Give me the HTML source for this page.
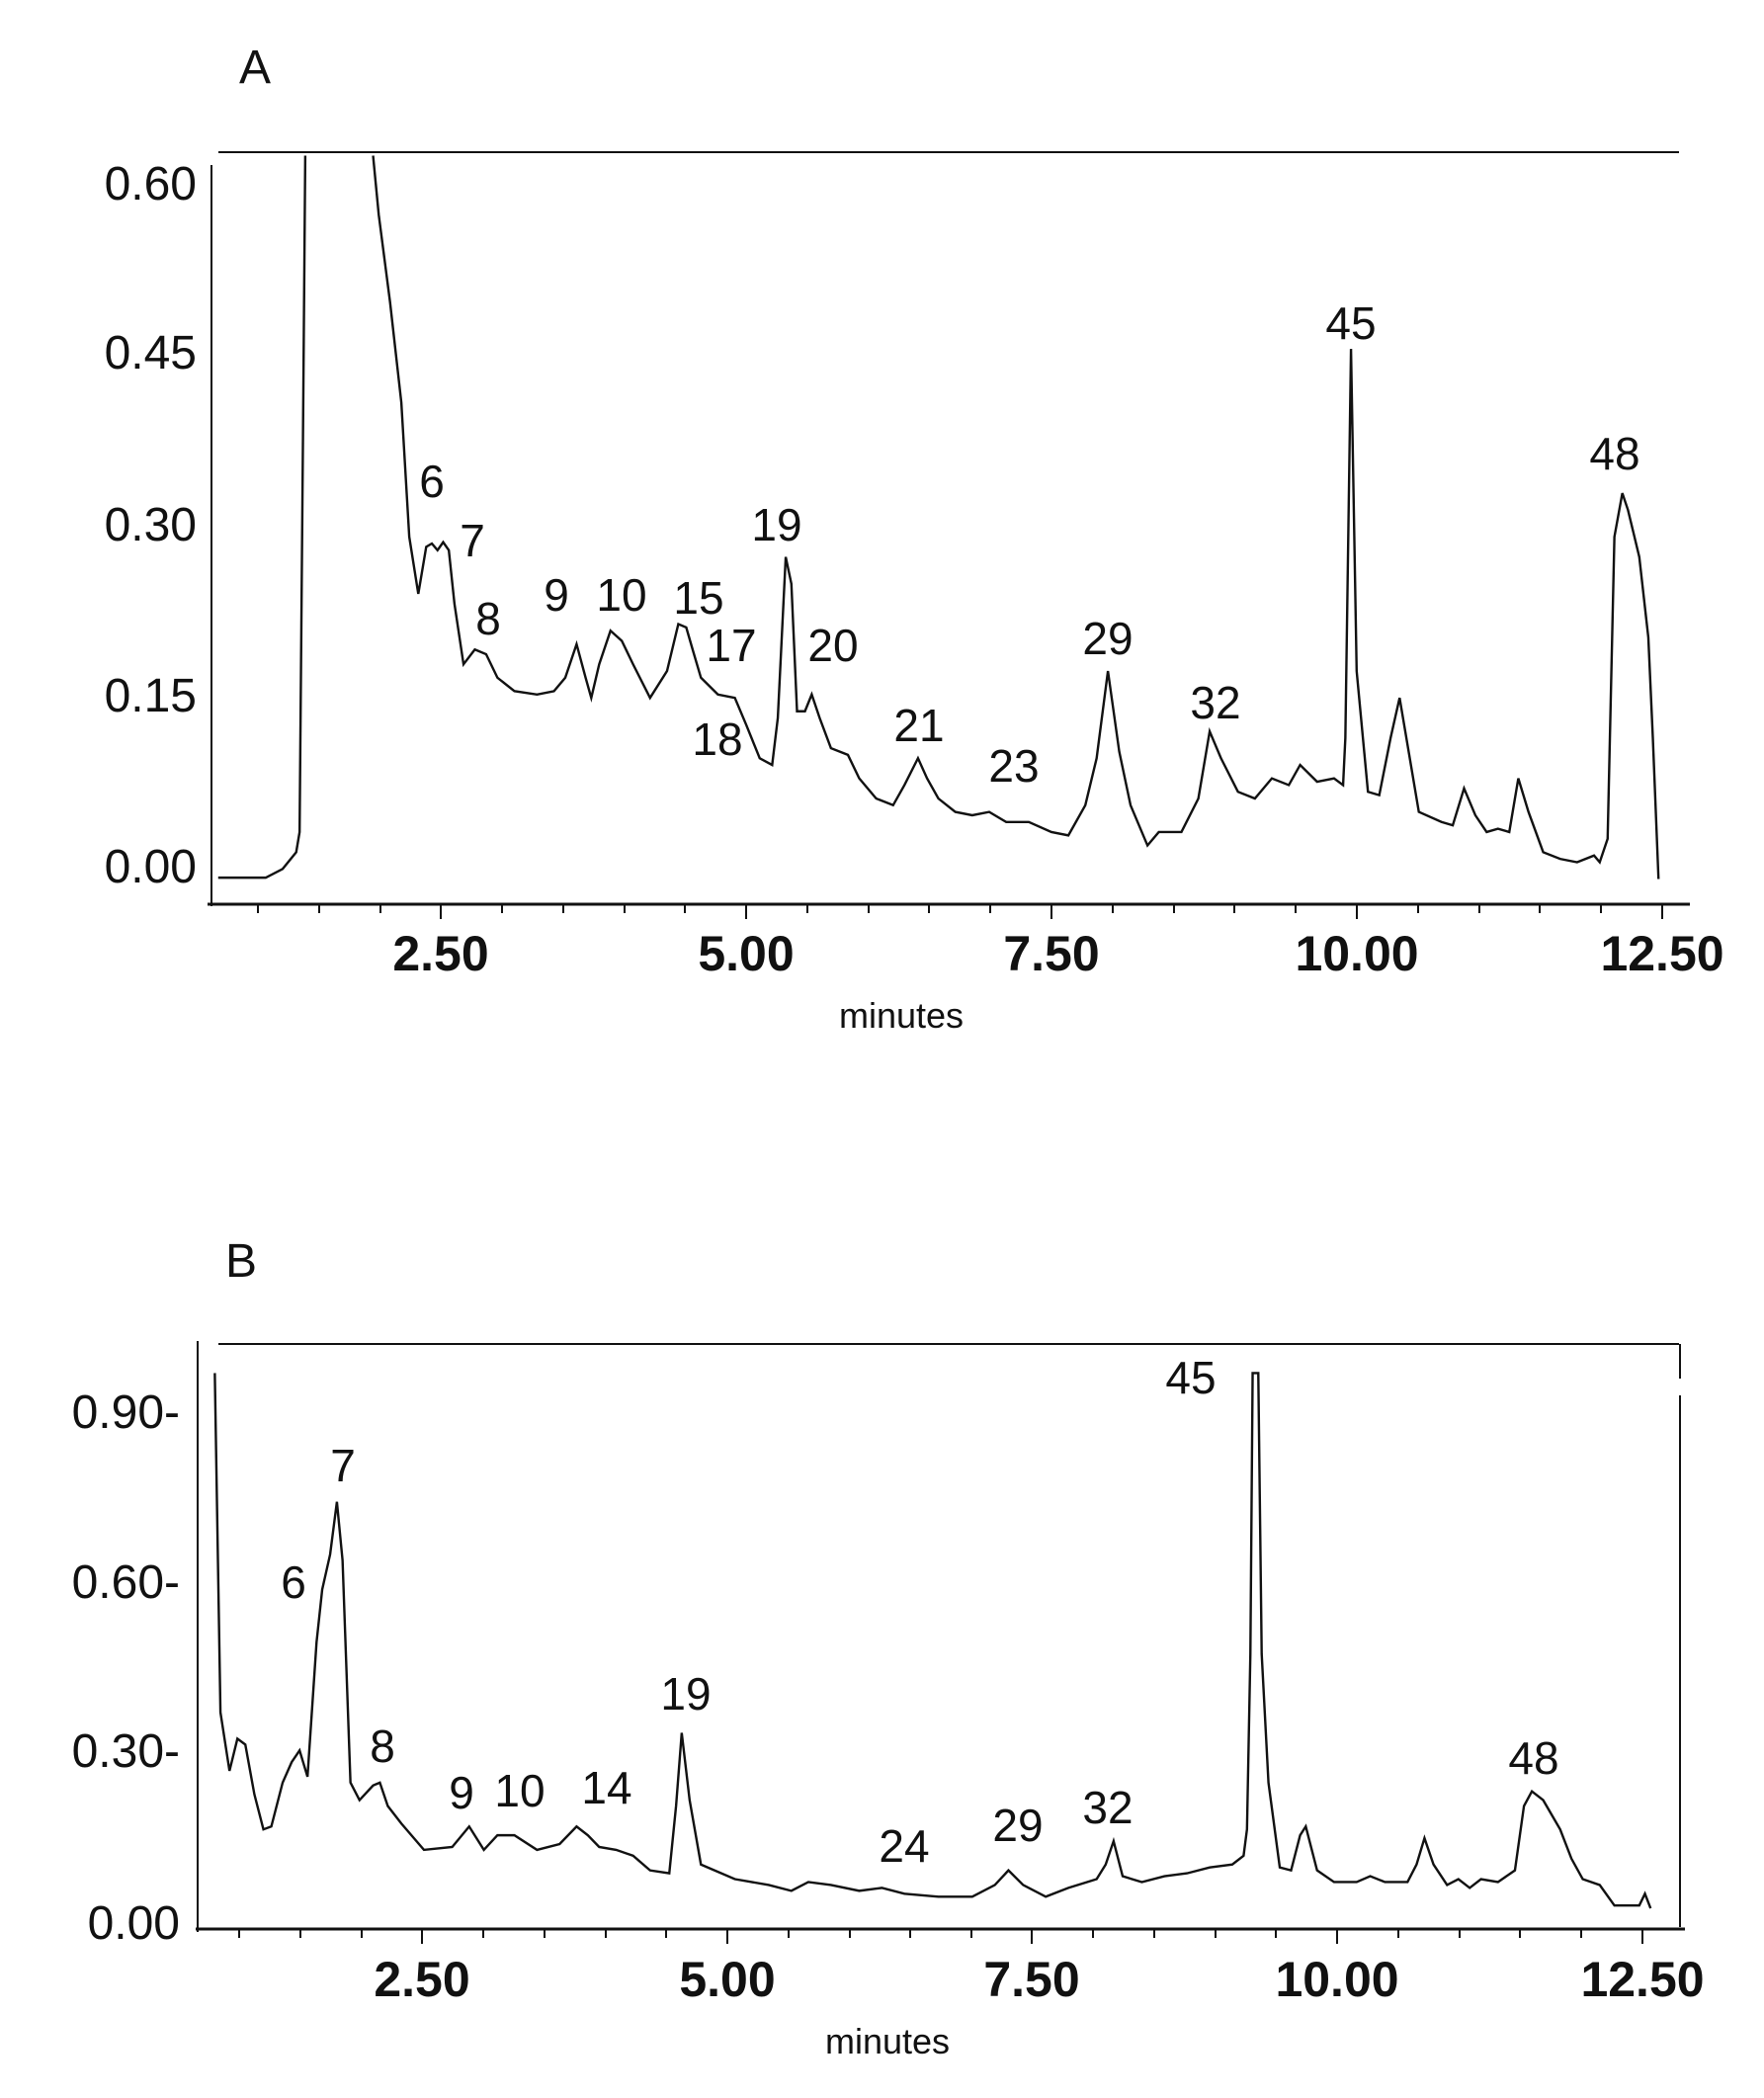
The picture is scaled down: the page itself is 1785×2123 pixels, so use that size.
<!DOCTYPE html>
<html><head><meta charset="utf-8"><style>
html,body{margin:0;padding:0;background:#fff}
svg{display:block}
text{font-family:"Liberation Sans",sans-serif;fill:#111}
</style></head><body>
<svg width="1785" height="2123" viewBox="0 0 1785 2123" xmlns="http://www.w3.org/2000/svg">
<!-- Panel A -->
<text x="242" y="84" font-size="48">A</text>
<line x1="221" y1="154" x2="1699" y2="154" stroke="#111" stroke-width="2"/>
<line x1="214" y1="167" x2="214" y2="917" stroke="#111" stroke-width="2"/>
<line x1="210" y1="915" x2="1710" y2="915" stroke="#111" stroke-width="3"/>
<g font-size="48" text-anchor="end">
<text x="199" y="202">0.60</text><text x="199" y="373">0.45</text><text x="199" y="547">0.30</text><text x="199" y="720">0.15</text><text x="199" y="893">0.00</text>
</g>
<g stroke="#111" stroke-width="2">
<line x1="261" y1="915" x2="261" y2="924"/><line x1="323" y1="915" x2="323" y2="924"/><line x1="385" y1="915" x2="385" y2="924"/><line x1="446" y1="915" x2="446" y2="930"/><line x1="508" y1="915" x2="508" y2="924"/><line x1="570" y1="915" x2="570" y2="924"/><line x1="632" y1="915" x2="632" y2="924"/><line x1="693" y1="915" x2="693" y2="924"/><line x1="755" y1="915" x2="755" y2="930"/><line x1="817" y1="915" x2="817" y2="924"/><line x1="879" y1="915" x2="879" y2="924"/><line x1="940" y1="915" x2="940" y2="924"/><line x1="1002" y1="915" x2="1002" y2="924"/><line x1="1064" y1="915" x2="1064" y2="930"/><line x1="1126" y1="915" x2="1126" y2="924"/><line x1="1188" y1="915" x2="1188" y2="924"/><line x1="1249" y1="915" x2="1249" y2="924"/><line x1="1311" y1="915" x2="1311" y2="924"/><line x1="1373" y1="915" x2="1373" y2="930"/><line x1="1435" y1="915" x2="1435" y2="924"/><line x1="1497" y1="915" x2="1497" y2="924"/><line x1="1558" y1="915" x2="1558" y2="924"/><line x1="1620" y1="915" x2="1620" y2="924"/><line x1="1682" y1="915" x2="1682" y2="930"/>
</g>
<g font-size="50" font-weight="bold" text-anchor="middle">
<text x="446" y="982">2.50</text><text x="755" y="982">5.00</text><text x="1064" y="982">7.50</text><text x="1373" y="982">10.00</text><text x="1682" y="982">12.50</text>
</g>
<text x="912" y="1040" font-size="36" text-anchor="middle">minutes</text>
<g transform="scale(1.144,0.679)" fill="none" stroke="#111" stroke-width="2.4">
<path vector-effect="non-scaling-stroke" d="M193,1308 L235,1308 250,1295 262,1270 265,1240 268,650 270,232 M330,232 L335,320 345,450 355,600 362,800 370,885 377,815 382,810 387,820 392,808 397,820 402,900 410,990 420,968 430,975 440,1010 455,1030 475,1035 490,1030 500,1010 510,960 518,1010 523,1040 530,990 540,940 550,955 560,990 575,1040 590,1000 600,930 607,935 613,970 620,1010 635,1035 650,1040 660,1080 672,1130 683,1140 688,1070 695,830 700,870 705,1060 712,1060 718,1035 725,1070 735,1115 750,1125 760,1160 775,1190 790,1200 800,1170 812,1130 820,1160 830,1190 845,1210 860,1215 875,1210 890,1225 910,1225 930,1240 945,1245 960,1200 970,1130 980,1000 990,1120 1000,1200 1015,1260 1025,1240 1045,1240 1060,1190 1070,1090 1080,1130 1095,1180 1110,1190 1125,1160 1140,1170 1150,1140 1165,1165 1180,1160 1188,1170 1190,1100 1195,520 1200,1000 1210,1180 1220,1185 1230,1100 1238,1040 1245,1110 1255,1210 1275,1225 1285,1230 1295,1175 1305,1215 1315,1240 1325,1235 1335,1240 1343,1160 1352,1210 1365,1270 1380,1280 1395,1285 1410,1275 1415,1285 1422,1250 1428,800 1435,735 1440,760 1450,830 1458,950 1462,1100 1467,1310"/>
</g>
<g font-size="46" text-anchor="middle">
<text x="437" y="503">6</text><text x="478" y="563">7</text><text x="494" y="642">8</text><text x="563" y="618">9</text><text x="629" y="618">10</text><text x="707" y="621">15</text><text x="740" y="669">17</text><text x="726" y="764">18</text><text x="786" y="547">19</text><text x="843" y="669">20</text><text x="930" y="750">21</text><text x="1026" y="791">23</text><text x="1121" y="662">29</text><text x="1230" y="727">32</text><text x="1367" y="343">45</text><text x="1634" y="475">48</text>
</g>

<!-- Panel B -->
<text x="228" y="1292" font-size="48">B</text>
<line x1="221" y1="1360" x2="1699" y2="1360" stroke="#111" stroke-width="2"/>
<line x1="1700" y1="1360" x2="1700" y2="1395" stroke="#111" stroke-width="2"/>
<line x1="1700" y1="1412" x2="1700" y2="1950" stroke="#111" stroke-width="2"/>
<line x1="200" y1="1357" x2="200" y2="1955" stroke="#111" stroke-width="2"/>
<line x1="198" y1="1952" x2="1705" y2="1952" stroke="#111" stroke-width="3"/>
<g font-size="48" text-anchor="end">
<text x="182" y="1445">0.90-</text><text x="182" y="1617">0.60-</text><text x="182" y="1788">0.30-</text><text x="182" y="1962">0.00</text>
</g>
<g stroke="#111" stroke-width="2">
<line x1="242" y1="1952" x2="242" y2="1961"/><line x1="304" y1="1952" x2="304" y2="1961"/><line x1="366" y1="1952" x2="366" y2="1961"/><line x1="427" y1="1952" x2="427" y2="1967"/><line x1="489" y1="1952" x2="489" y2="1961"/><line x1="551" y1="1952" x2="551" y2="1961"/><line x1="613" y1="1952" x2="613" y2="1961"/><line x1="674" y1="1952" x2="674" y2="1961"/><line x1="736" y1="1952" x2="736" y2="1967"/><line x1="798" y1="1952" x2="798" y2="1961"/><line x1="860" y1="1952" x2="860" y2="1961"/><line x1="921" y1="1952" x2="921" y2="1961"/><line x1="983" y1="1952" x2="983" y2="1961"/><line x1="1044" y1="1952" x2="1044" y2="1967"/><line x1="1106" y1="1952" x2="1106" y2="1961"/><line x1="1168" y1="1952" x2="1168" y2="1961"/><line x1="1230" y1="1952" x2="1230" y2="1961"/><line x1="1291" y1="1952" x2="1291" y2="1961"/><line x1="1353" y1="1952" x2="1353" y2="1967"/><line x1="1415" y1="1952" x2="1415" y2="1961"/><line x1="1477" y1="1952" x2="1477" y2="1961"/><line x1="1538" y1="1952" x2="1538" y2="1961"/><line x1="1600" y1="1952" x2="1600" y2="1961"/><line x1="1662" y1="1952" x2="1662" y2="1967"/>
</g>
<g font-size="50" font-weight="bold" text-anchor="middle">
<text x="427" y="2020">2.50</text><text x="736" y="2020">5.00</text><text x="1044" y="2020">7.50</text><text x="1353" y="2020">10.00</text><text x="1662" y="2020">12.50</text>
</g>
<text x="898" y="2078" font-size="36" text-anchor="middle">minutes</text>
<g transform="translate(0,1200) scale(1.144,0.592)" fill="none" stroke="#111" stroke-width="2.4">
<path vector-effect="non-scaling-stroke" d="M190,320 L195,900 203,1000 210,945 217,955 225,1040 233,1100 240,1095 250,1020 258,985 265,965 272,1010 280,780 285,690 292,630 298,540 303,640 310,1020 318,1050 330,1025 336,1020 343,1060 355,1090 375,1135 400,1130 415,1095 428,1135 440,1110 455,1110 475,1135 495,1125 510,1095 520,1110 530,1130 545,1135 560,1145 575,1170 592,1175 598,1060 603,935 610,1050 620,1160 650,1185 680,1195 700,1205 715,1190 735,1195 760,1205 780,1200 800,1210 830,1215 860,1215 880,1195 892,1170 905,1195 925,1215 945,1200 970,1185 978,1160 985,1120 993,1180 1010,1190 1030,1180 1050,1175 1070,1165 1090,1160 1100,1145 1103,1100 1106,800 1108,320 1113,320 1116,800 1122,1020 1132,1165 1142,1170 1150,1110 1155,1095 1165,1170 1180,1190 1200,1190 1212,1180 1225,1190 1245,1190 1253,1160 1260,1115 1268,1160 1280,1195 1290,1185 1300,1200 1310,1185 1325,1190 1340,1170 1348,1060 1355,1035 1365,1050 1380,1100 1390,1150 1400,1185 1415,1195 1428,1230 1440,1230 1450,1230 1455,1210 1460,1235"/>
</g>
<g font-size="46" text-anchor="middle">
<text x="347" y="1499">7</text><text x="297" y="1617">6</text><text x="387" y="1783">8</text><text x="467" y="1830">9</text><text x="526" y="1828">10</text><text x="614" y="1825">14</text><text x="694" y="1730">19</text><text x="915" y="1884">24</text><text x="1030" y="1863">29</text><text x="1121" y="1845">32</text><text x="1205" y="1410">45</text><text x="1552" y="1795">48</text>
</g>
</svg>
</body></html>
